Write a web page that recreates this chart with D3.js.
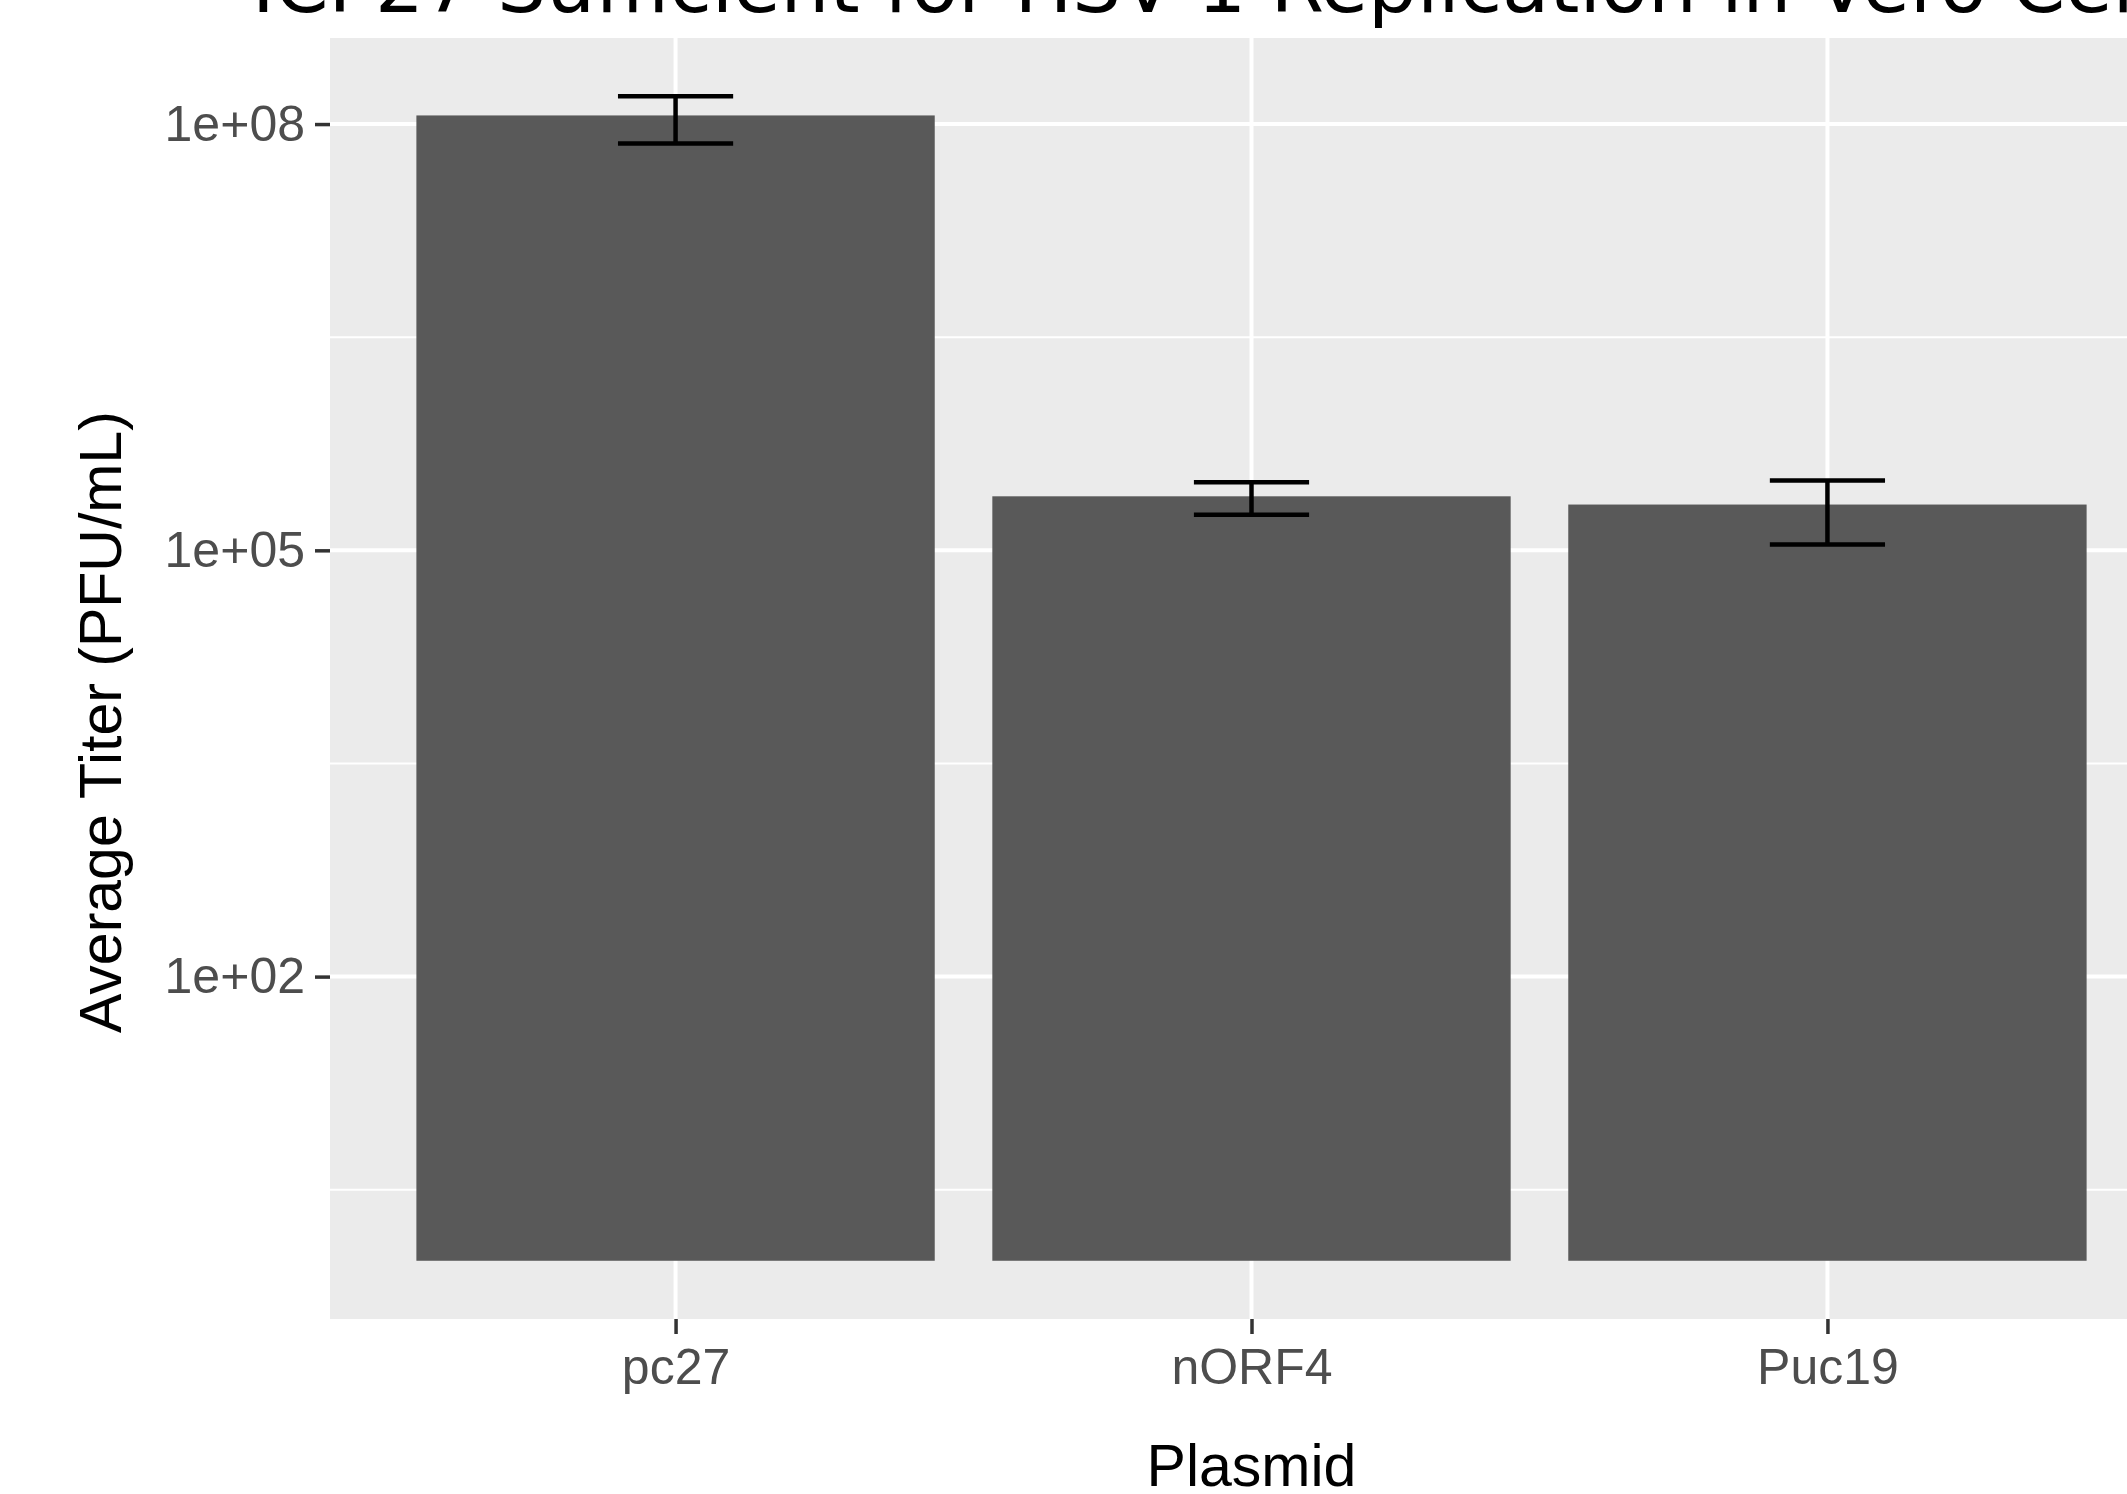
<!DOCTYPE html>
<html>
<head>
<meta charset="utf-8">
<script src="https://cdn.jsdelivr.net/npm/d3@7"></script>
<style>
  html, body { margin: 0; padding: 0; background: #ffffff; overflow: hidden; }
  svg { display: block; }
</style>
</head>
<body>
<svg id="chart" width="2127" height="1494"></svg>
<script>
// ---- data ----
const categories = ["pc27", "nORF4", "Puc19"];
const meanTiter = [1.15e8, 2.4e5, 2.1e5];
const sdTiter = [4.2e7, 6.2e4, 1.0e5];
const yTickValues = [1e2, 1e5, 1e8];
const yTickLabels = ["1e+02", "1e+05", "1e+08"];
const yMinorValues = [3.1623, 3162.3, 3162278];
const titleText = "ICP27 Sufficient for HSV-1 Replication in Vero Cells";
const xTitle = "Plasmid";
const yTitle = "Average Titer (PFU/mL)";

// ---- layout ----
const W = 2127, H = 1494;
const panel = { left: 330, right: 2173, top: 38, bottom: 1319 };

const svg = d3.select("#chart");

// scales
const x = d3.scalePoint().domain(categories).range([panel.left, panel.right]).padding(0.6);
const step = x.step();

const upper = meanTiter.map((m, i) => m + sdTiter[i]);
const lo = 0, hi = Math.log10(d3.max(upper));
const pad = (hi - lo) * 0.05;
const y = d3.scaleLog()
  .domain([Math.pow(10, lo - pad), Math.pow(10, hi + pad)])
  .range([panel.bottom, panel.top]);

// panel background
svg.append("rect")
  .attr("x", panel.left).attr("y", panel.top)
  .attr("width", panel.right - panel.left).attr("height", panel.bottom - panel.top)
  .attr("fill", "#EBEBEB");

// minor gridlines
svg.append("g").selectAll("line").data(yMinorValues).join("line")
  .attr("x1", panel.left).attr("x2", panel.right)
  .attr("y1", d => y(d)).attr("y2", d => y(d))
  .attr("stroke", "#ffffff").attr("stroke-width", 2);

// major gridlines
svg.append("g").selectAll("line").data(yTickValues).join("line")
  .attr("x1", panel.left).attr("x2", panel.right)
  .attr("y1", d => y(d)).attr("y2", d => y(d))
  .attr("stroke", "#ffffff").attr("stroke-width", 4);

svg.append("g").selectAll("line").data(categories).join("line")
  .attr("x1", d => x(d)).attr("x2", d => x(d))
  .attr("y1", panel.top).attr("y2", panel.bottom)
  .attr("stroke", "#ffffff").attr("stroke-width", 4);

// bars
const barW = step * 0.9;
svg.append("g").selectAll("rect").data(categories).join("rect")
  .attr("x", d => x(d) - barW / 2)
  .attr("width", barW)
  .attr("y", (d, i) => y(meanTiter[i]))
  .attr("height", (d, i) => y(1) - y(meanTiter[i]))
  .attr("fill", "#595959");

// error bars
const capW = step * 0.2;
const eb = svg.append("g").attr("stroke", "#000000").attr("stroke-width", 4.5).attr("fill", "none");
categories.forEach((c, i) => {
  const yt = y(meanTiter[i] + sdTiter[i]);
  const yb = y(meanTiter[i] - sdTiter[i]);
  eb.append("line").attr("x1", x(c)).attr("x2", x(c)).attr("y1", yt).attr("y2", yb);
  eb.append("line").attr("x1", x(c) - capW / 2).attr("x2", x(c) + capW / 2).attr("y1", yt).attr("y2", yt);
  eb.append("line").attr("x1", x(c) - capW / 2).attr("x2", x(c) + capW / 2).attr("y1", yb).attr("y2", yb);
});

// y axis
const yAxis = d3.axisLeft(y)
  .tickValues(yTickValues)
  .tickFormat((d, i) => yTickLabels[i])
  .tickSize(15)
  .tickPadding(10);
const gy = svg.append("g").attr("transform", `translate(${panel.left},0)`).call(yAxis);
gy.select(".domain").remove();
gy.selectAll(".tick line").attr("stroke", "#333333").attr("stroke-width", 3.5);
gy.selectAll(".tick text")
  .attr("fill", "#4D4D4D")
  .style("font-family", "'Liberation Sans', Arial, sans-serif")
  .style("font-size", "50px");

// x axis
const xAxis = d3.axisBottom(x).tickSize(15).tickPadding(14);
const gx = svg.append("g").attr("transform", `translate(0,${panel.bottom})`).call(xAxis);
gx.select(".domain").remove();
gx.selectAll(".tick line").attr("stroke", "#333333").attr("stroke-width", 3.5);
gx.selectAll(".tick text")
  .attr("fill", "#4D4D4D")
  .style("font-family", "'Liberation Sans', Arial, sans-serif")
  .style("font-size", "50px");

// axis titles
svg.append("text")
  .attr("x", (panel.left + panel.right) / 2)
  .attr("y", 1486)
  .attr("text-anchor", "middle")
  .attr("fill", "#000000")
  .style("font-family", "'Liberation Sans', Arial, sans-serif")
  .style("font-size", "59px")
  .text(xTitle);

svg.append("text")
  .attr("transform", "translate(121,722) rotate(-90)")
  .attr("text-anchor", "middle")
  .attr("fill", "#000000")
  .style("font-family", "'Liberation Sans', Arial, sans-serif")
  .style("font-size", "59px")
  .text(yTitle);

// title (cropped at top in the reference)
svg.append("text")
  .attr("x", 252)
  .attr("y", 12)
  .attr("fill", "#000000")
  .style("font-family", "'DejaVu Sans', Verdana, sans-serif")
  .style("font-size", "77px")
  .text(titleText);
</script>
</body>
</html>
